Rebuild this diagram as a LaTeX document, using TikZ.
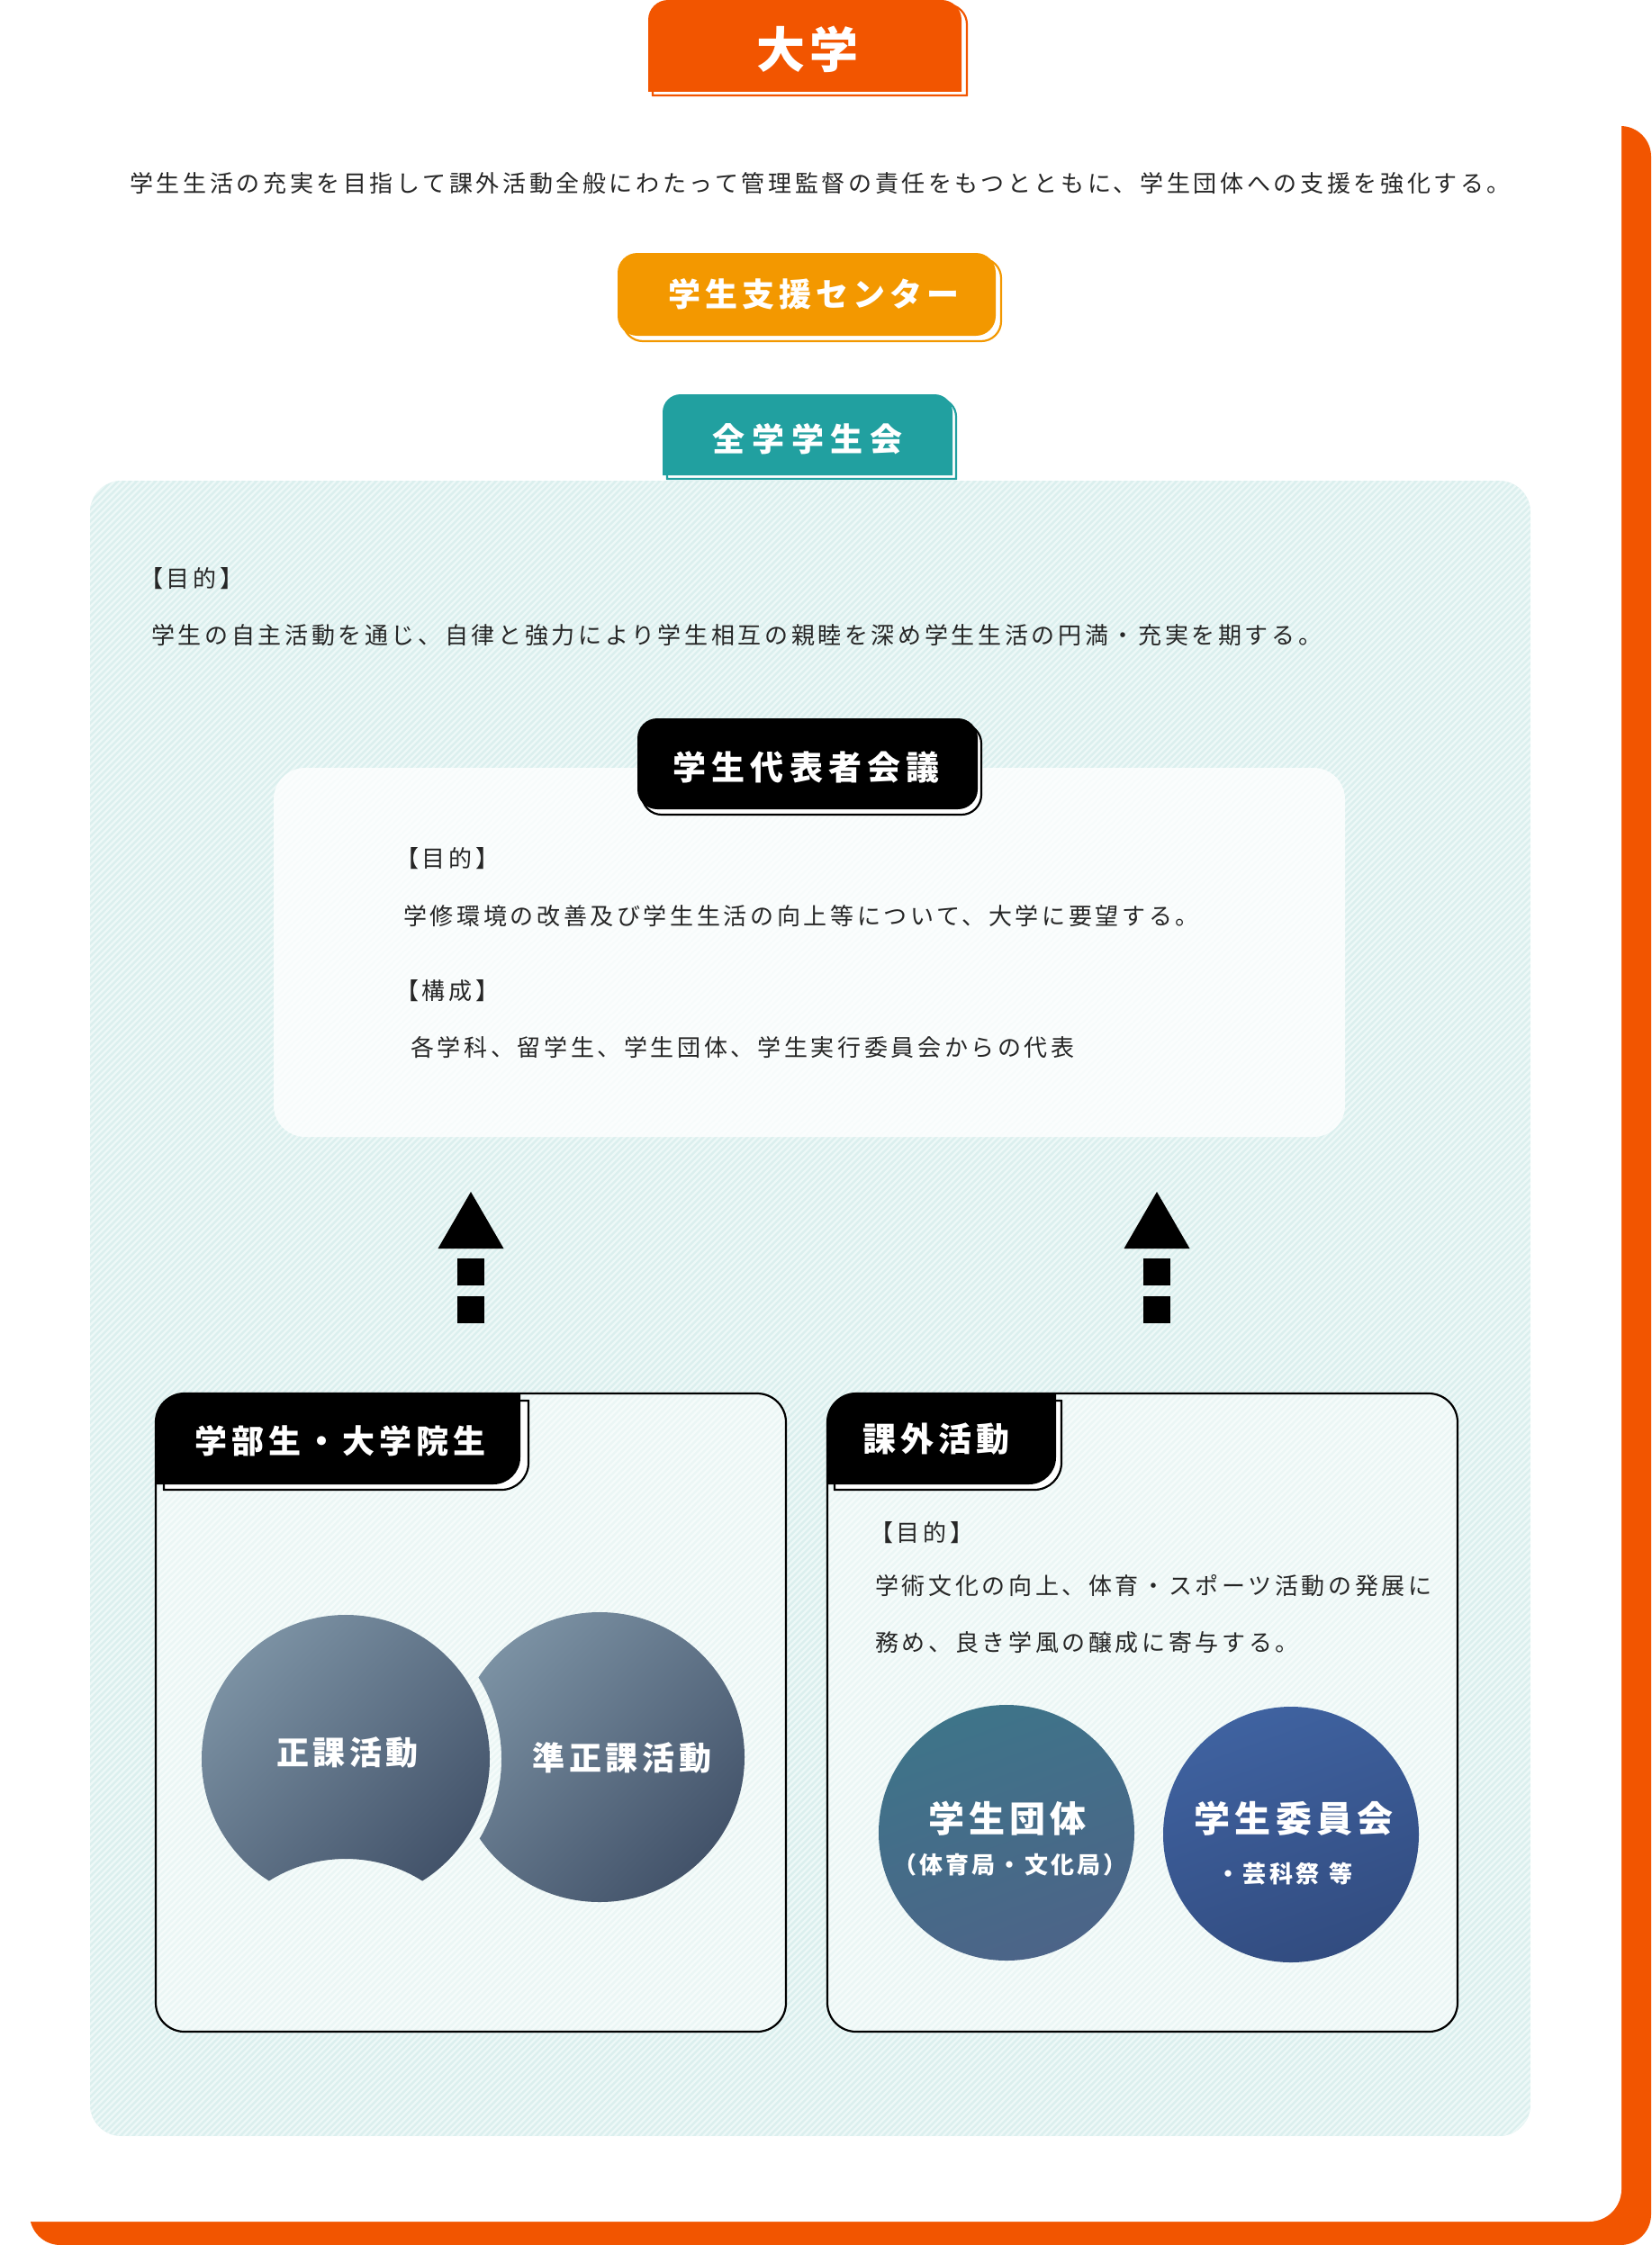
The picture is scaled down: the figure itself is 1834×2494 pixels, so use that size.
\documentclass[tikz,border=0pt]{standalone}
\usepackage{fontspec}
\setmainfont{Noto Sans CJK JP}
\usetikzlibrary{arrows.meta}
\definecolor{uorange}{HTML}{F25500}
\definecolor{sorange}{HTML}{F39800}
\definecolor{steal}{HTML}{21A0A0}
\definecolor{hbase}{HTML}{DBEFEE}
\definecolor{hline}{HTML}{EDF8F7}
\definecolor{txt}{HTML}{262626}
\definecolor{cgl}{HTML}{7B91A3}
\definecolor{cgd}{HTML}{43536A}
\definecolor{ctt}{HTML}{3E7489}
\definecolor{ctb}{HTML}{4C6488}
\definecolor{cbt}{HTML}{3F62A0}
\definecolor{cbb}{HTML}{324C80}
\newcommand{\jfs}[2]{\fontsize{#1}{#1}\selectfont\addfontfeatures{LetterSpace=#2}}
% rectangle with per-corner radii: x0 y0 x1 y1 rTL rTR rBR rBL  (y grows downward)
\newcommand{\rrp}[8]{(#1,#2+#5) arc[start angle=180,end angle=270,radius=#5] -- (#3-#6,#2) arc[start angle=270,end angle=360,radius=#6] -- (#3,#4-#7) arc[start angle=0,end angle=90,radius=#7] -- (#1+#8,#4) arc[start angle=90,end angle=180,radius=#8] -- cycle}
\tikzset{
  desc/.style={anchor=west, inner sep=0pt, text=txt, font=\jfs{26}{14}},
  wtitle/.style={inner sep=0pt, text=white},
  shadowline/.style={fill=white, draw=#1, line width=2.2pt},
  subbox/.style={fill=white, fill opacity=0.45, draw=black, draw opacity=1, line width=2.2pt, rounded corners=32pt},
  dashbar/.style={draw=black, line width=30pt, dash pattern=on 30pt off 12pt},
}
\begin{document}
\begin{tikzpicture}[x=1pt,y=-1pt]
\useasboundingbox (0,0) rectangle (1834,2494);
\fill[white] (0,0) rectangle (1834,2494);
% outer frame
\fill[uorange, rounded corners=34pt] (33,140) rectangle (1834,2494);
\fill[white, rounded corners=36pt] (0,0) rectangle (1801,2468);

% 大学
\draw[shadowline=uorange] \rrp{725}{5}{1074}{106}{22}{22}{0.01}{0.01};
\fill[uorange] \rrp{720}{0}{1068}{102}{22}{22}{0.01}{0.01};
\node[wtitle, font=\bfseries\jfs{54}{8}] (daigaku) at (897,55) {大学};

\node[desc] (topdesc) at (144,204) {学生生活の充実を目指して課外活動全般にわたって管理監督の責任をもつとともに、学生団体への支援を強化する。};

% 学生支援センター
\draw[shadowline=sorange, rounded corners=22pt] (692,287) rectangle (1112,379);
\fill[sorange, rounded corners=22pt] (686,281) rectangle (1106,373);
\node[wtitle, anchor=west, font=\bfseries\jfs{36}{14}] (center) at (742,327) {学生支援センター};

% hatched panel
\begin{scope}
\clip[rounded corners=35pt] (100,534) rectangle (1700,2373);
\fill[hbase] (100,534) rectangle (1700,2373);
\foreach \i in {0,...,492} \draw[hline, line width=2.4pt] (-1739+7*\i,2373) -- ++(1839,-1839);
\end{scope}

% 全学学生会
\draw[shadowline=steal] \rrp{741}{443}{1062}{532}{20}{20}{0.01}{0.01};
\fill[steal] \rrp{736}{438}{1058}{528}{20}{20}{0.01}{0.01};
\node[wtitle, anchor=west, font=\bfseries\jfs{36}{22}] (zengaku) at (791,488) {全学学生会};

\node[desc] (p1h) at (155,643) {【目的】};
\node[desc] (p1t) at (168,706) {学生の自主活動を通じ、自律と強力により学生相互の親睦を深め学生生活の円満・充実を期する。};

% 学生代表者会議 panel
\fill[white, fill opacity=0.8, rounded corners=35pt] (304,853) rectangle (1494,1263);
\draw[shadowline=black, rounded corners=22pt] (713,804) rectangle (1090,905);
\fill[black, rounded corners=22pt] (708,798) rectangle (1086,899);
\node[wtitle, anchor=west, font=\bfseries\jfs{37}{17}] (daihyo) at (747,852) {学生代表者会議};

\node[desc] (p2h) at (439,954) {【目的】};
\node[desc] (p2t) at (448,1018) {学修環境の改善及び学生生活の向上等について、大学に要望する。};
\node[desc] (p2c) at (439,1101) {【構成】};
\node[desc] (p2u) at (456,1164) {各学科、留学生、学生団体、学生実行委員会からの代表};

% arrows
\coordinate (a1b) at (523,1470); \coordinate (a1t) at (523,1387); \coordinate (a1h) at (523,1324);
\coordinate (a2b) at (1285,1470); \coordinate (a2t) at (1285,1387); \coordinate (a2h) at (1285,1324);
\draw[dashbar] (a1b) -- (a1t);
\fill[black] ([xshift=-36.5pt]a1t) -- (a1h) -- ([xshift=36.5pt]a1t) -- cycle;
\draw[dashbar] (a2b) -- (a2t);
\fill[black] ([xshift=-36.5pt]a2t) -- (a2h) -- ([xshift=36.5pt]a2t) -- cycle;

% bottom boxes
\path[subbox] (173,1548) rectangle (873,2257);
\path[subbox] (919,1548) rectangle (1619,2257);

% tabs
\draw[shadowline=black] \rrp{182}{1556}{587}{1655}{32}{0.01}{30}{0.01};
\fill[black] \rrp{173}{1548}{578}{1649}{32}{0.01}{30}{0.01};
\node[wtitle, anchor=west, font=\bfseries\jfs{36}{14}] (gakubu) at (216,1601) {学部生・大学院生};

\draw[shadowline=black] \rrp{927}{1556}{1179}{1655}{32}{0.01}{30}{0.01};
\fill[black] \rrp{919}{1548}{1173}{1649}{32}{0.01}{30}{0.01};
\node[wtitle, anchor=west, font=\bfseries\jfs{37}{14}] (kagai) at (958,1599) {課外活動};

\node[desc] (p3h) at (966,1703) {【目的】};
\node[desc] (p3t) at (972,1762) {学術文化の向上、体育・スポーツ活動の発展に};
\node[desc] (p3u) at (972,1825) {務め、良き学風の醸成に寄与する。};

% circles left
\begin{scope}[even odd rule]
\clip (0,0) rectangle (1834,2494) (384,2225) circle[radius=160];
\shade[top color=cgl, bottom color=cgd, shading angle=45] (384,1954) circle[radius=160];
\end{scope}
\begin{scope}[even odd rule]
\clip (0,0) rectangle (1834,2494) (384,1954) circle[radius=173];
\shade[top color=cgl, bottom color=cgd, shading angle=45] (666,1952) circle[radius=161];
\end{scope}
\node[wtitle, font=\bfseries\jfs{36}{12}] (seika) at (386,1947) {正課活動};
\node[wtitle, font=\bfseries\jfs{36}{13}] (junseika) at (691,1953) {準正課活動};

% circles right
\shade[top color=ctt, bottom color=ctb, shading angle=20] (1118,2036) circle[radius=142];
\shade[top color=cbt, bottom color=cbb, shading angle=20] (1434,2038) circle[radius=142];
\node[wtitle, font=\bfseries\jfs{40}{12}] (dantai) at (1119,2020) {学生団体};
\node[wtitle, font=\bfseries\jfs{26}{12}] (dantai2) at (1122,2072) {（体育局・文化局）};
\node[wtitle, font=\bfseries\jfs{40}{13}] (iinkai) at (1437,2020) {学生委員会};
\node[wtitle, font=\bfseries\jfs{26}{12}] (iinkai2) at (1427,2082) {・芸科祭\hspace{11pt}等};
\end{tikzpicture}
\end{document}
